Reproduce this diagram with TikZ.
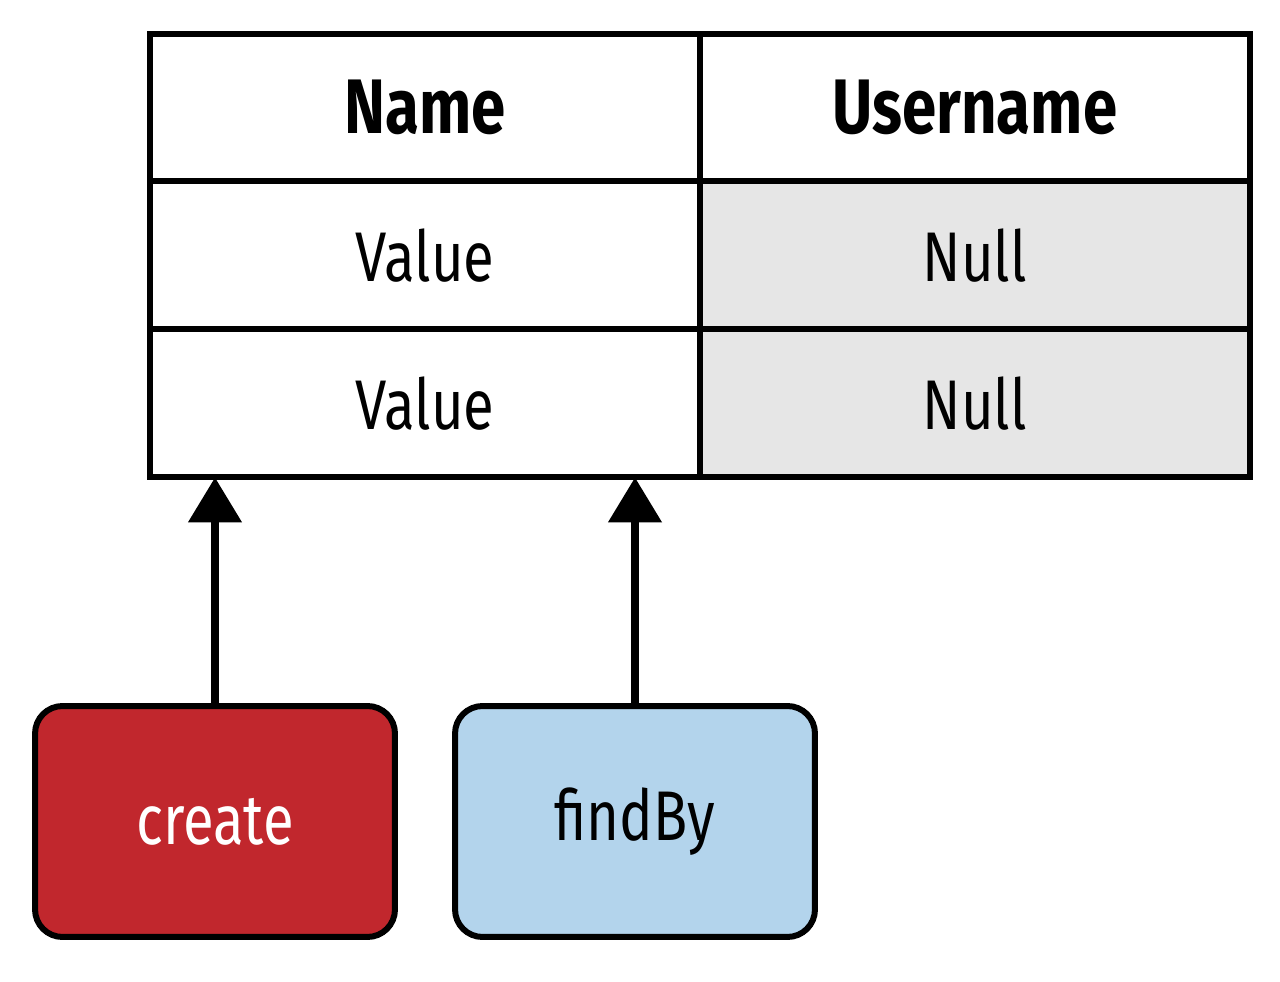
\documentclass[tikz,border=0pt]{standalone}
\usepackage{fontspec}
\setsansfont[FakeStretch=0.8]{Fira Sans}
\usetikzlibrary{positioning,arrows.meta}
\definecolor{createred}{HTML}{C1272D}
\definecolor{findblue}{HTML}{B3D4EC}
\definecolor{nullgray}{HTML}{E6E6E6}

\begin{document}
\begin{tikzpicture}[ % GLOBAL CFG
    x=0.02cm, y=-0.02cm,
    font=\sffamily\fontsize{40}{48}\selectfont,
    >={Triangle[width=1.04cm,length=0.9cm]},
    % Styles
    cell/.style={% For the table cells
        rectangle,
        draw,
        line width=0.12cm,
        minimum width=11cm,
        minimum height=2.96cm,
        inner sep=0pt,
        outer sep=0pt,
        },
    header/.style={% For the column titles
        cell,
        font=\sffamily\bfseries\fontsize{44}{52}\selectfont,
        },
    nullcell/.style={% For the empty values
        cell,
        fill=nullgray,
        },
    opbox/.style={% For the repository methods
        rectangle,
        rounded corners=0.55cm,
        draw,
        line width=0.12cm,
        minimum width=7.2cm,
        minimum height=4.62cm,
        },
    ArrowUp/.style={% Arrows into the table
        line width=0.16cm,
        },
    ]

    \useasboundingbox (0,0) rectangle (1280,982);

    % Table
    \node [header] (name) at (425,107.5) {Name};
    \node [header, right=0pt of name] (user) {Username};
    \node [cell, below=0pt of name] (val1) {Value};
    \node [nullcell, below=0pt of user] (null1) {Null};
    \node [cell, below=0pt of val1] (val2) {Value};
    \node [nullcell, below=0pt of null1] (null2) {Null};

    % Methods
    \node [opbox, fill=createred, text=white] (create) at (215,821.5) {create};
    \node [opbox, fill=findblue] (findby) at (635,821.5) {findBy};

    \draw [->, ArrowUp] (create) -- (create |- val2.south);
    \draw [->, ArrowUp] (findby) -- (findby |- val2.south);

\end{tikzpicture}
\end{document}
